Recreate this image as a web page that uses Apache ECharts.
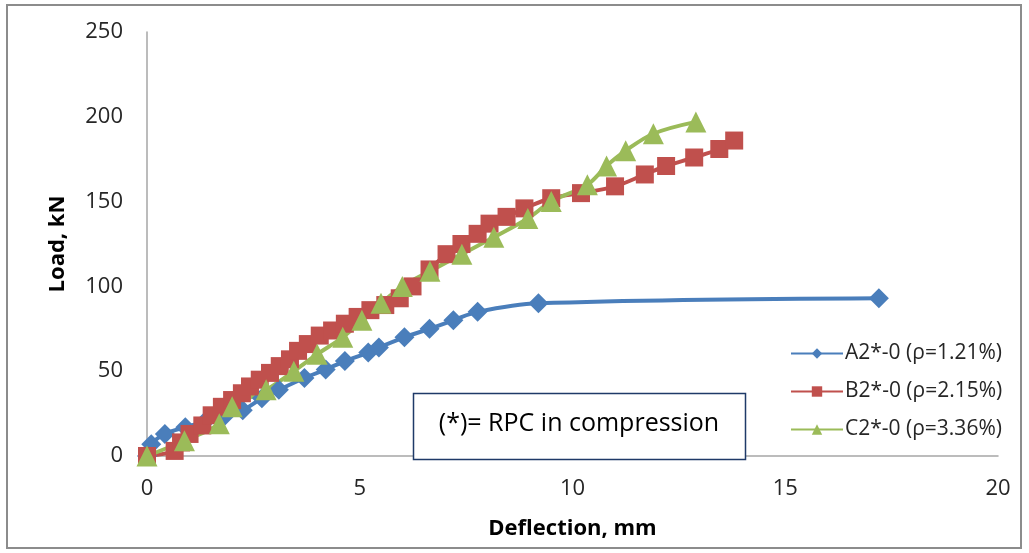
<!DOCTYPE html>
<html>
<head>
<meta charset="utf-8">
<style>
  html, body { margin: 0; padding: 0; background: #fff; }
  #chart { width: 1029px; height: 553px; }
</style>
<script src="https://cdn.jsdelivr.net/npm/echarts@6/dist/echarts.min.js"></script>
</head>
<body>
<div id="chart"></div>
<script>
// Load–deflection curves, [deflection mm, load kN]
const seriesNames = ['A2*-0 (ρ=1.21%)', 'B2*-0 (ρ=2.15%)', 'C2*-0 (ρ=3.36%)'];

const beamA = [
  [0, 0], [0.1, 7], [0.42, 13], [0.9, 17], [1.35, 20], [1.8, 23], [2.25, 27],
  [2.7, 34], [3.1, 39], [3.7, 46], [4.2, 51], [4.65, 56], [5.2, 61], [5.45, 64],
  [6.05, 70], [6.64, 75], [7.2, 80], [7.77, 85], [9.2, 90], [17.2, 93]
];

const beamB = [
  [0, 0], [0.65, 3], [0.8, 8], [1.0, 13], [1.3, 18], [1.52, 24], [1.76, 29],
  [2.0, 33], [2.23, 37], [2.42, 41], [2.65, 45], [2.89, 49], [3.12, 53],
  [3.36, 57], [3.55, 62], [3.78, 66], [4.06, 71], [4.35, 74], [4.65, 78],
  [4.95, 82], [5.25, 86], [5.6, 89], [5.94, 93], [6.24, 100], [6.64, 110],
  [7.04, 119], [7.39, 125], [7.77, 131], [8.05, 137], [8.45, 141], [8.87, 146],
  [9.5, 152], [10.2, 155], [11.0, 159], [11.7, 166], [12.2, 171], [12.86, 176],
  [13.45, 181], [13.8, 186]
];

const beamC = [
  [0, 0], [0.88, 9], [1.7, 19], [2.0, 29], [2.8, 39], [3.45, 50], [4.0, 60],
  [4.6, 70], [5.05, 80], [5.5, 90], [6.0, 100], [6.65, 109], [7.4, 119],
  [8.15, 129], [8.95, 140], [9.5, 150], [10.35, 160], [10.8, 171], [11.25, 180],
  [11.9, 190], [12.9, 197]
];

const xTicks = { min: 0, max: 20, interval: 5 };
const yTicks = { min: 0, max: 250, interval: 50 };

const noteText = '(*)= RPC in compression';

const FONT = 'Open Sans';
const chart = echarts.init(document.getElementById('chart'), null, { renderer: 'canvas' });

function lineSeries(name, data, color, symbol, size) {
  return {
    name: name,
    type: 'line',
    data: data,
    smooth: 0.35,
    symbol: symbol,
    symbolSize: size,
    showAllSymbol: true,
    lineStyle: { color: color, width: 4 },
    itemStyle: { color: color },
    emphasis: { disabled: true },
    animation: false
  };
}

chart.setOption({
  backgroundColor: '#ffffff',
  animation: false,
  grid: { left: 147, right: 31, top: 32, bottom: 97, containLabel: false },
  xAxis: {
    type: 'value',
    min: xTicks.min, max: xTicks.max, interval: xTicks.interval,
    name: 'Deflection, mm',
    nameLocation: 'middle',
    nameGap: 62,
    nameTextStyle: { fontFamily: FONT, fontSize: 22, fontWeight: 'bold', color: '#000' },
    axisLine: { show: true, lineStyle: { color: '#a6a6a6', width: 1.5 } },
    axisTick: { show: false },
    splitLine: { show: false },
    axisLabel: { fontFamily: FONT, fontSize: 22, color: '#262626', margin: 22 }
  },
  yAxis: {
    type: 'value',
    min: yTicks.min, max: yTicks.max, interval: yTicks.interval,
    name: 'Load, kN',
    nameLocation: 'middle',
    nameGap: 78,
    nameTextStyle: { fontFamily: FONT, fontSize: 22, fontWeight: 'bold', color: '#000' },
    axisLine: { show: true, lineStyle: { color: '#a6a6a6', width: 1.5 } },
    axisTick: { show: false },
    splitLine: { show: false },
    axisLabel: { fontFamily: FONT, fontSize: 22, color: '#262626', margin: 24 }
  },
  legend: {
    orient: 'vertical',
    left: 785,
    top: 338,
    itemWidth: 52,
    itemHeight: 13,
    itemGap: 17,
    textStyle: { fontFamily: FONT, fontSize: 21, color: '#262626', padding: [0, 0, 0, -3] },
    data: seriesNames
  },
  graphic: [
    {
      type: 'rect',
      shape: { x: 7, y: 5, width: 1014, height: 543 },
      style: { fill: 'none', stroke: '#8c8c8c', lineWidth: 2 },
      silent: true
    },
    {
      type: 'rect',
      shape: { x: 413.5, y: 393.5, width: 332, height: 66 },
      style: { fill: '#fff', stroke: '#1f3a68', lineWidth: 1.5 },
      z: 10,
      silent: true
    },
    {
      type: 'text',
      x: 579, y: 424,
      style: {
        text: noteText,
        fontFamily: FONT, fontSize: 25, fill: '#000',
        align: 'center', verticalAlign: 'middle'
      },
      z: 11,
      silent: true
    }
  ],
  series: [
    lineSeries(seriesNames[0], beamA, '#4a7ebb', 'diamond', 20),
    lineSeries(seriesNames[1], beamB, '#c0504d', 'rect', 18),
    lineSeries(seriesNames[2], beamC, '#9bbb59', 'triangle', 21)
  ]
});
</script>
</body>
</html>
